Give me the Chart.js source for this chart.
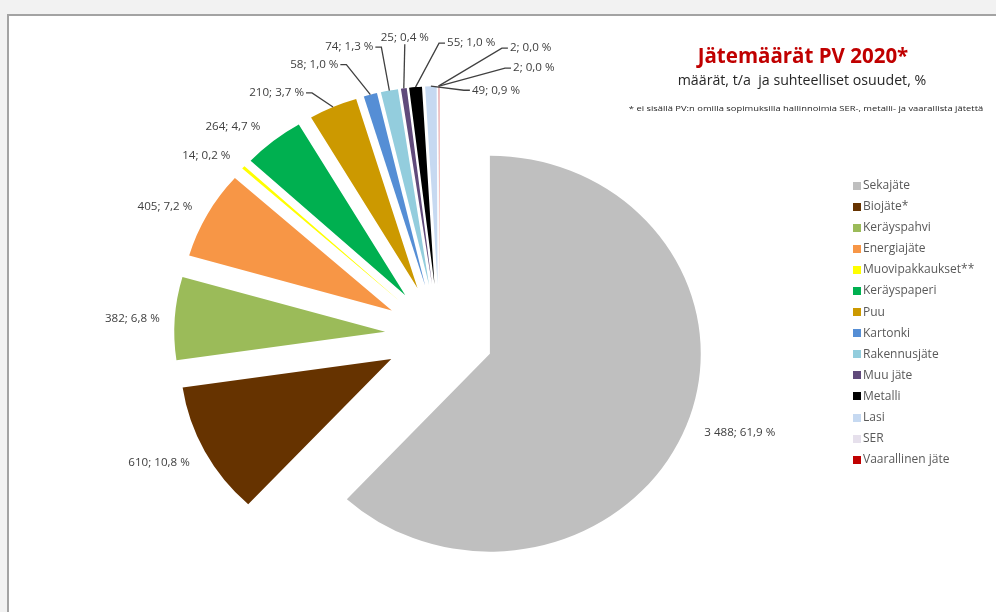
<!DOCTYPE html>
<html>
<head>
<meta charset="utf-8">
<script src="https://cdn.jsdelivr.net/npm/chart.js@4/dist/chart.umd.min.js"></script>
<style>
  html, body { margin: 0; padding: 0; }
  body { width: 996px; height: 612px; background: #f2f2f2; position: relative; overflow: hidden; font-family: "Open Sans", sans-serif; }
  .frame { position: absolute; left: 7px; top: 14px; right: -10px; bottom: -10px; background: #fff; border-left: 2px solid #a3a3a3; border-top: 2px solid #a3a3a3; }
  #pie { position: absolute; left: 0; top: 0; }
  .txt { position: absolute; white-space: nowrap; text-align: center; }
  #title { left: 600px; width: 406px; top: 41px; font-size: 20.5px; font-weight: bold; color: #c00000; line-height: 28px; }
  #subtitle { left: 600px; width: 404px; top: 70px; font-size: 14.2px; color: #262626; line-height: 20px; }
  #note { left: 600px; width: 412px; top: 103px; font-size: 9.4px; color: #262626; line-height: 12px; transform: scaleY(0.8); }
  #legend { position: absolute; left: 853px; top: 174px; margin: 0; padding: 0; list-style: none; font-size: 12px; color: #595959; }
  #legend li { height: 21.1px; line-height: 21.1px; white-space: nowrap; }
  #legend span { display: inline-block; width: 8px; height: 8px; margin-right: 2px; vertical-align: -0.5px; }
</style>
</head>
<body>
<div class="frame"></div>
<canvas id="pie" width="996" height="612"></canvas>
<div class="txt" id="title">Jätemäärät PV 2020*</div>
<div class="txt" id="subtitle">määrät, t/a&nbsp; ja suhteelliset osuudet, %</div>
<div class="txt" id="note">* ei sisällä PV:n omilla sopimuksilla hallinnoimia SER-, metalli- ja vaarallista jätettä</div>
<ul id="legend"></ul>
<script>
// waste types, clockwise from 12 o'clock
const categories = ["Sekajäte", "Biojäte*", "Keräyspahvi", "Energiajäte", "Muovipakkaukset**", "Keräyspaperi", "Puu",
    "Kartonki", "Rakennusjäte", "Muu jäte", "Metalli", "Lasi", "SER", "Vaarallinen jäte"];
// amounts, t/a
const values = [3488, 610, 382, 405, 14, 264, 210, 58, 74, 25, 55, 49, 2, 2];
const colors = ["#bfbfbf", "#663300", "#9bbb59", "#f79646", "#ffff00", "#00b050", "#cc9900",
    "#558ed5", "#93cddd", "#604a7b", "#000000", "#c6d9f1", "#e6e0ec", "#c00000"];

// how far every slice is pulled out from the centre (px)
const EXPLODE = 51;
// the original picture is a bit wider than tall
const STRETCH_X = 1.065;
// label nudge from the slice's outer tip: dx, dy, text align, leader line
const labelNudge = [
    [18, 7, "left", false],
    [-15, 11.5, "right", false],
    [-15, 0, "right", false],
    [-15, -7.5, "right", false],
    [-13, -12, "right", false],
    [-13, -14, "right", false],
    [-29, -14, "right", true],
    [-32, -30, "right", true],
    [-16, -43.5, "right", true],
    [1, -51, "center", true],
    [31.5, -44, "left", true],
    [41, 4, "left", true],
    [71.5, -38, "left", true],
    [74, -18, "left", true]
];

function formatLabel(v, total) {
    const num = String(v).replace(/\B(?=(\d{3})+(?!\d))/g, " ");
    const pct = (v / total * 100).toFixed(1).replace(".", ",");
    return num + "; " + pct + " %";
}

// draw every slice pushed out along its own middle angle (Excel style explode)
const explodePlugin = {
    id: "explode",
    beforeDatasetDraw(chart, args) {
        const ctx = chart.ctx;
        args.meta.data.forEach(arc => {
            const mid = (arc.startAngle + arc.endAngle) / 2;
            ctx.save();
            ctx.translate(arc.x, arc.y);
            ctx.scale(STRETCH_X, 1);
            ctx.translate(-arc.x, -arc.y);
            ctx.translate(Math.cos(mid) * EXPLODE, Math.sin(mid) * EXPLODE);
            arc.draw(ctx, chart.chartArea);
            ctx.restore();
        });
        return false;
    }
};

const labelPlugin = {
    id: "sliceLabels",
    afterDatasetsDraw(chart) {
        const ctx = chart.ctx;
        const arcs = chart.getDatasetMeta(0).data;
        const total = values.reduce((a, b) => a + b, 0);
        ctx.save();
        ctx.font = '11.6px "Open Sans"';
        ctx.fillStyle = "#404040";
        ctx.strokeStyle = "#404040";
        ctx.lineWidth = 1.3;
        ctx.textBaseline = "middle";
        arcs.forEach((arc, i) => {
            const mid = (arc.startAngle + arc.endAngle) / 2;
            const r = arc.outerRadius + EXPLODE;
            const ax = arc.x + Math.cos(mid) * r * STRETCH_X;
            const ay = arc.y + Math.sin(mid) * r;
            const [dx, dy, align, leader] = labelNudge[i];
            const tx = ax + dx;
            const ty = ay + dy;
            if (leader) {
                ctx.beginPath();
                ctx.moveTo(ax, ay);
                if (align === "left") {
                    ctx.lineTo(tx - 8, ty);
                    ctx.lineTo(tx - 2, ty);
                } else if (align === "right") {
                    ctx.lineTo(tx + 8, ty);
                    ctx.lineTo(tx + 2, ty);
                } else {
                    ctx.lineTo(tx, ty + 7);
                }
                ctx.stroke();
            }
            ctx.textAlign = align;
            ctx.fillText(formatLabel(values[i], total), tx, ty);
        });
        ctx.restore();
    }
};

function buildLegend() {
    const list = document.getElementById("legend");
    categories.forEach((name, i) => {
        const li = document.createElement("li");
        li.innerHTML = `<span style="background:${colors[i]}"></span>${name}`;
        list.appendChild(li);
    });
}

function drawChart() {
    new Chart(document.getElementById("pie"), {
        type: "pie",
        data: {
            labels: categories,
            datasets: [{
                data: values,
                backgroundColor: colors,
                borderWidth: 0
            }]
        },
        options: {
            responsive: false,
            animation: false,
            radius: 198,
            layout: { padding: { left: 0, right: 117.4, top: 58.2, bottom: 0 } },
            plugins: {
                legend: { display: false },
                title: { display: false },
                tooltip: { enabled: false }
            }
        },
        plugins: [explodePlugin, labelPlugin]
    });
}

buildLegend();
drawChart();
</script>
</body>
</html>
